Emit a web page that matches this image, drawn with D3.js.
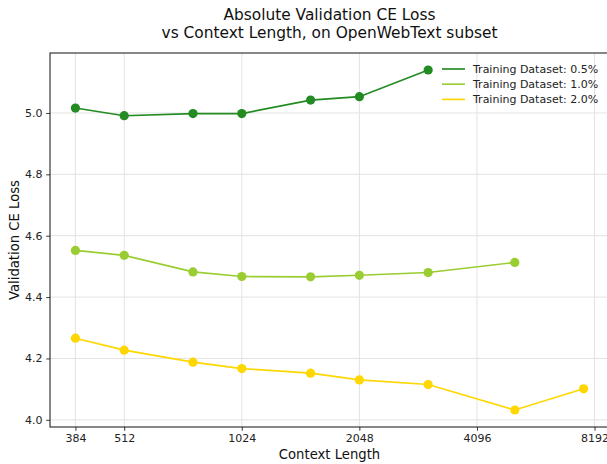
<!DOCTYPE html>
<html>
<head>
<meta charset="utf-8">
<script src="https://cdn.jsdelivr.net/npm/d3@7"></script>
<style>
  html, body { margin: 0; padding: 0; background: #fff; }
  svg { display: block; font-family: "DejaVu Sans", sans-serif; }
</style>
</head>
<body>
<svg id="chart" width="607" height="464"></svg>
<script>
// Context lengths (tokens) at which each run was evaluated
const contextLengths = [384, 512, 768, 1024, 1536, 2048, 3072, 5120, 7680];

// Validation cross-entropy loss per training-data fraction
const loss05 = [5.016, 4.991, 4.998, 4.998, 5.042, 5.053, 5.140];
const loss10 = [4.552, 4.536, 4.482, 4.467, 4.466, 4.471, 4.480, 4.513];
const loss20 = [4.266, 4.227, 4.188, 4.167, 4.152, 4.130, 4.115, 4.032, 4.101];

const seriesNames = ["Training Dataset: 0.5%", "Training Dataset: 1.0%", "Training Dataset: 2.0%"];
const seriesColors = ["#228b22", "#9acd32", "#ffd700"];

const xTicks = [384, 512, 1024, 2048, 4096, 8192];
const yTicks = [4.0, 4.2, 4.4, 4.6, 4.8, 5.0];

const series = [loss05, loss10, loss20].map((vals, i) => ({
  name: seriesNames[i],
  color: seriesColors[i],
  points: vals.map((v, j) => ({ x: contextLengths[j], y: v }))
}));

const svg = d3.select("#chart");
const margin = { left: 50, top: 53, right: 609, bottom: 427 };

// log2 axis padded 5% on each side, like the default plot margins
const allX = contextLengths;
const lx0 = Math.log2(d3.min(allX)), lx1 = Math.log2(d3.max(allX));
const padX = (lx1 - lx0) * 0.05;
const x = d3.scaleLog().base(2)
  .domain([Math.pow(2, lx0 - padX), Math.pow(2, lx1 + padX)])
  .range([margin.left, margin.right]);

const allY = [].concat(loss05, loss10, loss20);
const y0 = d3.min(allY), y1 = d3.max(allY);
const padY = (y1 - y0) * 0.05;
const y = d3.scaleLinear()
  .domain([y0 - padY, y1 + padY])
  .range([margin.bottom, margin.top]);

// grid
const grid = svg.append("g").attr("stroke", "#e3e3e3").attr("stroke-width", 1);
xTicks.forEach(t => grid.append("line")
  .attr("x1", x(t)).attr("x2", x(t))
  .attr("y1", margin.top).attr("y2", margin.bottom));
yTicks.forEach(t => grid.append("line")
  .attr("x1", margin.left).attr("x2", margin.right)
  .attr("y1", y(t)).attr("y2", y(t)));

// axes
const xAxis = d3.axisBottom(x).tickValues(xTicks).tickFormat(d3.format("d"))
  .tickSize(3.8).tickPadding(3.8);
const yAxis = d3.axisLeft(y).tickValues(yTicks).tickFormat(d3.format(".1f"))
  .tickSize(3.8).tickPadding(3.8);

const gx = svg.append("g").attr("transform", `translate(0,${margin.bottom})`).call(xAxis);
const gy = svg.append("g").attr("transform", `translate(${margin.left},0)`).call(yAxis);
[gx, gy].forEach(g => {
  g.select(".domain").remove();
  g.selectAll("text").attr("font-family", "DejaVu Sans").attr("font-size", 11).attr("fill", "#222");
  g.selectAll("line").attr("stroke", "#222").attr("stroke-width", 0.9);
});

// frame
svg.append("rect")
  .attr("x", margin.left).attr("y", margin.top)
  .attr("width", margin.right - margin.left).attr("height", margin.bottom - margin.top)
  .attr("fill", "none").attr("stroke", "#111").attr("stroke-width", 1);

// lines and markers
const line = d3.line().x(d => x(d.x)).y(d => y(d.y));
series.forEach(s => {
  svg.append("path").datum(s.points)
    .attr("d", line).attr("fill", "none")
    .attr("stroke", s.color).attr("stroke-width", 1.65);
  svg.append("g").selectAll("circle").data(s.points).join("circle")
    .attr("cx", d => x(d.x)).attr("cy", d => y(d.y)).attr("r", 4.6)
    .attr("fill", s.color);
});

// legend
const legend = svg.append("g").attr("transform", "translate(442,69)");
series.forEach((s, i) => {
  const g = legend.append("g").attr("transform", `translate(0,${i * 15.2})`);
  g.append("line").attr("x1", 0).attr("x2", 23).attr("y1", 0).attr("y2", 0)
    .attr("stroke", s.color).attr("stroke-width", 1.65);
  g.append("text").attr("x", 31).attr("y", 0).attr("dy", "0.35em")
    .attr("font-size", 11).attr("fill", "#222").text(s.name);
});

// titles
const cx = (margin.left + margin.right) / 2;
svg.append("text").attr("x", cx).attr("y", 20).attr("text-anchor", "middle")
  .attr("font-size", 15.4).attr("fill", "#111").text("Absolute Validation CE Loss");
svg.append("text").attr("x", cx).attr("y", 37.5).attr("text-anchor", "middle")
  .attr("font-size", 15.4).attr("fill", "#111").text("vs Context Length, on OpenWebText subset");

svg.append("text").attr("x", cx).attr("y", 459).attr("text-anchor", "middle")
  .attr("font-size", 13.2).attr("fill", "#111").text("Context Length");
svg.append("text").attr("transform", `translate(19,${(margin.top + margin.bottom) / 2}) rotate(-90)`)
  .attr("text-anchor", "middle").attr("font-size", 13.2).attr("fill", "#111")
  .text("Validation CE Loss");
</script>
</body>
</html>
